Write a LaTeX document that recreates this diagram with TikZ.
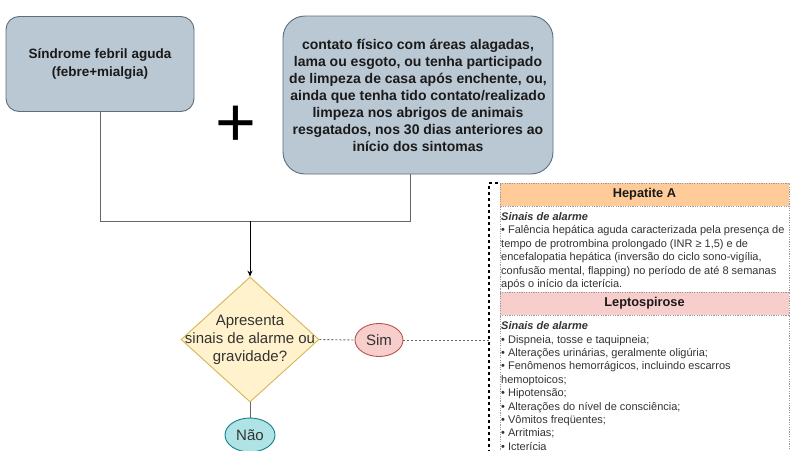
\documentclass[tikz,border=0pt]{standalone}
\usepackage{fontspec}
\setmainfont{Liberation Sans}
\usetikzlibrary{shapes.geometric,arrows.meta}
\definecolor{boxfill}{HTML}{BAC8D3}
\definecolor{boxline}{HTML}{5F6E7A}
\definecolor{diafill}{HTML}{FFF2CC}
\definecolor{dialine}{HTML}{D6B656}
\definecolor{simfill}{HTML}{F8CECC}
\definecolor{simline}{HTML}{B85450}
\definecolor{naofill}{HTML}{B0E3E6}
\definecolor{naoline}{HTML}{0E8088}
\definecolor{hepfill}{HTML}{FFCC99}
\definecolor{leptfill}{HTML}{F8CECC}
\definecolor{txtdark}{HTML}{1A1A1A}
\definecolor{txtgray}{HTML}{333333}
\definecolor{connc}{HTML}{666666}
\definecolor{panelline}{HTML}{9A9A9A}
\begin{document}
\begin{tikzpicture}[x=1pt,y=-1pt,
  gbox/.style={draw=boxline,fill=boxfill,line width=0.9pt,align=center,inner sep=0pt,text=txtdark},
  conn/.style={draw=connc,line width=0.9pt},
  arrc/.style={draw=black,line width=0.9pt,-{Stealth[length=6pt,width=5pt]}},
  dotc/.style={draw=connc,line width=0.9pt,dash pattern=on 2pt off 2pt},
  outerd/.style={draw=black,line width=1.4pt,dash pattern=on 3pt off 3pt},
  panel/.style={draw=panelline,line width=0.8pt,dash pattern=on 1.2pt off 1.2pt,inner sep=0pt,minimum width=289pt},
  hdrtxt/.style={font=\fontsize{12.8}{15}\selectfont\bfseries,text=txtdark},
  bodytxt/.style={anchor=north west,inner sep=0pt,align=left,text=txtgray,font=\fontsize{11}{13.4}\selectfont},
  ell/.style={ellipse,line width=0.9pt,inner sep=0pt,text=txtgray,font=\fontsize{15}{18}\selectfont}
]
\useasboundingbox (0,0) rectangle (800,450);
\fill[white] (0,0) rectangle (800,450);

% top boxes
\node[gbox,rounded corners=13pt,minimum width=188pt,minimum height=95pt,
      font=\fontsize{13.5}{18}\selectfont\bfseries] (b1) at (100,64)
  {Síndrome febril aguda\\(febre+mialgia)};
\node[gbox,rounded corners=22pt,minimum width=270pt,minimum height=158pt,
      font=\fontsize{14}{17}\selectfont\bfseries] (b2) at (418,95)
  {contato físico com áreas alagadas,\\lama ou esgoto, ou tenha participado\\de limpeza de casa após enchente, ou,\\ainda que tenha tido contato/realizado\\limpeza nos abrigos de animais\\resgatados, nos 30 dias anteriores ao\\início dos sintomas};
\node[inner sep=0pt,font=\fontsize{70}{70}\selectfont] (plus) at (235.5,126) {+};

% decision
\node[diamond,draw=dialine,fill=diafill,line width=0.9pt,minimum width=138pt,minimum height=125pt,inner sep=0pt] (dia) at (250,339.5) {};
\node[align=center,inner sep=0pt,text=txtgray,font=\fontsize{15}{18}\selectfont] (diat) at (dia.center) {Apresenta\\sinais de alarme ou\\gravidade?};
\node[ell,draw=simline,fill=simfill,minimum width=48pt,minimum height=33pt] (sim) at (379,340) {Sim};
\node[ell,draw=naoline,fill=naofill,minimum width=50pt,minimum height=34pt] (nao) at (250,435) {Não};

% connectors
\coordinate (j) at (250,221);
\draw[conn] (b1.south) |- (j);
\draw[conn] ([xshift=-8pt]b2.south) |- (j);
\draw[arrc] (j) -- (dia.north);
\draw[conn] (dia.south) -- (nao.north);
\coordinate (outL) at (489,340);
\draw[dotc] (dia.east) -- (sim.west);
\draw[dotc] (sim.east) -- (outL);

% outer dashed container
\coordinate (oTop) at (498,183);
\coordinate (oCorner) at (489,183);
\coordinate (oBot) at (489,458);
\draw[outerd] (oTop) -- (oCorner) -- (oBot);

% panels
\node[panel,fill=hepfill,minimum height=23pt,hdrtxt] (hA) at (644.5,194.5) {Hepatite A};
\node[panel,fill=white,minimum height=86pt] (cA) at (644.5,249) {};
\node[panel,fill=leptfill,minimum height=23pt,hdrtxt] (hL) at (644.5,303.5) {Leptospirose};
\node[panel,fill=white,minimum height=155pt] (cL) at (644.5,392.5) {};

\node[bodytxt] (tA) at (501,212.4) {\textbf{\textit{Sinais de alarme}}\\
• Falência hepática aguda caracterizada pela presença de\\
tempo de protrombina prolongado (INR ≥ 1,5) e de\\
encefalopatia hepática (inversão do ciclo sono-vigília,\\
confusão mental, flapping) no período de até 8 semanas\\
após o início da icterícia.};

\node[bodytxt] (tL) at (501,321.5) {\textbf{\textit{Sinais de alarme}}\\
• Dispneia, tosse e taquipneia;\\
• Alterações urinárias, geralmente oligúria;\\
• Fenômenos hemorrágicos, incluindo escarros\\
hemoptoicos;\\
• Hipotensão;\\
• Alterações do nível de consciência;\\
• Vômitos freqüentes;\\
• Arritmias;\\
• Icterícia};
\end{tikzpicture}
\end{document}
